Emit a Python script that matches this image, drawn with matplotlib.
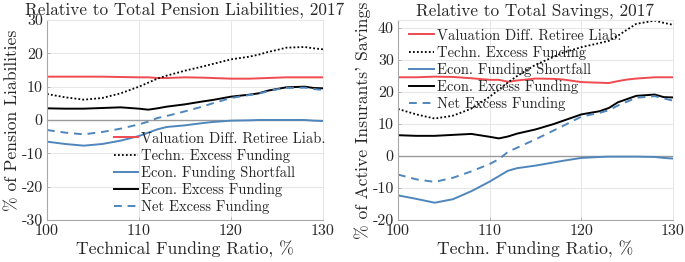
import matplotlib
matplotlib.use("Agg")
import matplotlib.pyplot as plt

plt.rcParams['font.family'] = ['cmr10', 'DejaVu Serif']
plt.rcParams['axes.unicode_minus'] = False
plt.rcParams['mathtext.fontset'] = 'cm'

x = [100, 102, 104, 106, 108, 110, 111, 112, 113, 115, 117, 118, 120, 122, 123, 124, 125, 126, 128, 129, 130]

# Left panel: relative to total pension liabilities
val_diff_L = [13.0, 13.0, 13.0, 13.0, 12.9, 12.8, 12.8, 12.6, 12.6, 12.8, 12.7, 12.6, 12.4, 12.4, 12.5, 12.6, 12.7, 12.8, 12.8, 12.8, 12.8]
techn_L = [7.8, 6.8, 6.1, 6.6, 8.0, 10.0, 11.2, 12.4, 13.3, 14.8, 16.1, 16.8, 18.2, 19.0, 19.6, 20.4, 21.0, 21.7, 21.9, 21.5, 21.2]
shortfall_L = [-6.5, -7.2, -7.7, -7.2, -6.2, -4.8, -3.8, -2.8, -2.1, -1.6, -0.9, -0.6, -0.2, -0.1, 0.0, 0.0, 0.0, 0.0, 0.0, -0.2, -0.3]
econ_L = [3.5, 3.4, 3.4, 3.6, 3.8, 3.4, 3.1, 3.5, 4.0, 4.7, 5.6, 6.0, 7.0, 7.6, 8.0, 8.8, 9.3, 9.8, 10.0, 9.6, 9.5]
net_L = [-3.0, -3.8, -4.3, -3.6, -2.6, -1.3, -0.5, 0.6, 1.2, 2.6, 4.1, 5.0, 6.6, 7.5, 7.9, 8.6, 9.2, 9.6, 9.7, 9.3, 9.0]

# Right panel: relative to total savings
val_diff_R = [24.6, 24.6, 24.8, 24.7, 24.3, 23.8, 23.8, 23.2, 23.6, 24.2, 24.1, 23.9, 23.1, 22.9, 22.8, 23.4, 23.9, 24.2, 24.6, 24.6, 24.6]
techn_R = [14.7, 13.0, 11.7, 12.6, 14.8, 18.5, 20.7, 23.0, 25.0, 28.5, 31.0, 32.3, 34.0, 35.3, 36.0, 37.6, 39.5, 41.3, 42.3, 41.6, 41.0]
shortfall_R = [-12.3, -13.4, -14.6, -13.5, -11.0, -8.0, -6.3, -4.6, -3.8, -3.0, -2.0, -1.5, -0.6, -0.3, -0.2, -0.2, -0.2, -0.2, -0.3, -0.6, -0.8]
econ_R = [6.5, 6.3, 6.3, 6.6, 6.9, 6.0, 5.5, 6.1, 7.0, 8.3, 10.0, 11.0, 13.0, 14.0, 15.0, 16.8, 17.8, 18.8, 19.2, 18.4, 18.3]
net_R = [-5.8, -7.3, -8.1, -6.8, -4.8, -2.5, -1.0, 1.3, 2.6, 5.2, 8.0, 9.4, 12.3, 13.5, 14.3, 15.8, 17.0, 18.2, 18.7, 18.0, 17.3]

labels = ["Valuation Diff. Retiree Liab.", "Techn. Excess Funding",
          "Econ. Funding Shortfall", "Econ. Excess Funding", "Net Excess Funding"]
xticks = [100, 110, 120, 130]
yticks_L = [-30, -20, -10, 0, 10, 20, 30]
yticks_R = [-20, -10, 0, 10, 20, 30, 40]

RED = '#ef4a50'
BLUE = '#4f86bb'
BLACK = '#000000'
TXT = '#262626'

fig = plt.figure(figsize=(6.85, 2.62), dpi=100)
axL = fig.add_axes([47/685, 42/262, 276/685, 200/262])
axR = fig.add_axes([398/685, 42/262, 275/685, 200/262])


def style(ax):
    ax.set_facecolor('white')
    ax.grid(True, color='#e6e6e6', linewidth=0.7)
    ax.set_axisbelow(True)
    for s in ['left', 'bottom']:
        ax.spines[s].set_color('#a8a8a8')
        ax.spines[s].set_linewidth(0.8)
    for s in ['top', 'right']:
        ax.spines[s].set_color('#e6e6e6')
        ax.spines[s].set_linewidth(0.7)
    ax.tick_params(direction='in', length=2.5, width=0.6, color='#a8a8a8',
                   labelsize=11.5, labelcolor=TXT, pad=3)
    ax.axhline(0, color='#9a9a9a', linewidth=1.0, zorder=1.5)


def draw(ax, series):
    vd, te, sf, ec, ne = series
    lw = 1.4
    ax.plot(x, vd, color=RED, lw=lw, label=labels[0])
    ax.plot(x, te, color=BLACK, lw=1.3, ls=(0, (1, 1.2)), label=labels[1])
    ax.plot(x, sf, color=BLUE, lw=lw, label=labels[2])
    ax.plot(x, ec, color=BLACK, lw=lw, label=labels[3])
    ax.plot(x, ne, color=BLUE, lw=lw, ls=(0, (4, 3)), label=labels[4])


def legend(ax, anchor):
    leg = ax.legend(loc='upper left', bbox_to_anchor=anchor, frameon=False,
                    fontsize=10.5, handlelength=1.7, handletextpad=0.2,
                    labelspacing=0.2, borderaxespad=0)
    for t in leg.get_texts():
        t.set_color(TXT)


style(axL)
draw(axL, (val_diff_L, techn_L, shortfall_L, econ_L, net_L))
axL.set_xlim(100, 130)
axL.set_ylim(-30, 30)
axL.set_xticks(xticks)
axL.set_yticks(yticks_L)
axL.set_title("Relative to Total Pension Liabilities, 2017", fontsize=12.4, pad=3, color=TXT)
axL.set_xlabel("Technical Funding Ratio, %", fontsize=12.7, color=TXT, labelpad=2)
axL.set_ylabel("% of Pension Liabilities", fontsize=12.7, color=TXT, labelpad=1)
legend(axL, (0.22, 0.47))

style(axR)
draw(axR, (val_diff_R, techn_R, shortfall_R, econ_R, net_R))
axR.set_xlim(100, 130)
axR.set_ylim(-20, 42.5)
axR.set_xticks(xticks)
axR.set_yticks(yticks_R)
axR.set_title("Relative to Total Savings, 2017", fontsize=12.4, pad=3, color=TXT)
axR.set_xlabel("Techn. Funding Ratio, %", fontsize=12.7, color=TXT, labelpad=2)
axR.set_ylabel("% of Active Insurants' Savings", fontsize=12.7, color=TXT, labelpad=1)
legend(axR, (0.02, 0.985))

fig.savefig("out.png", dpi=100, facecolor='white')
